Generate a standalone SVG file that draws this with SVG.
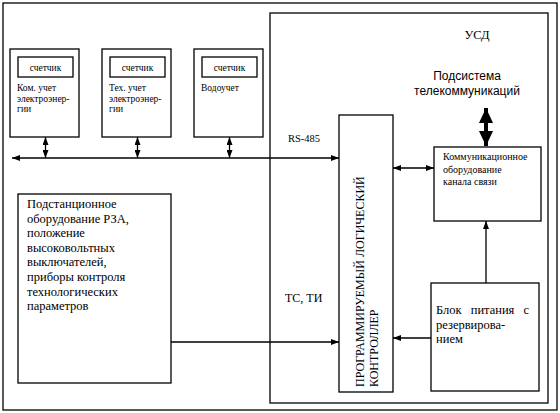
<svg xmlns="http://www.w3.org/2000/svg" width="560" height="413" viewBox="0 0 560 413">
<style>
.box{fill:#fff;stroke:#000;stroke-width:1.3}
.ln{fill:none;stroke:#000;stroke-width:1.3}
</style>
<defs>
<marker id="ah" viewBox="0 0 8 6" refX="8" refY="3" markerWidth="8" markerHeight="6" markerUnits="userSpaceOnUse" orient="auto-start-reverse">
<path d="M0,0 L8,3 L0,6 Z" fill="#000"/>
</marker>
<marker id="big" viewBox="0 0 15 14" refX="15" refY="7" markerWidth="15" markerHeight="14" markerUnits="userSpaceOnUse" orient="auto-start-reverse">
<path d="M0,0 L15,7 L0,14 Z" fill="#000"/>
</marker>
</defs>
<rect x="0" y="0" width="560" height="413" fill="#fff"/>
<g id="outer"><rect class="box" x="3" y="3" width="554" height="407"/></g>
<g font-family="'Liberation Serif', 'Times New Roman', 'DejaVu Serif', serif" fill="#000">
<g id="usd">
<rect class="box" x="270" y="13" width="278" height="390"/>
<text x="477" y="39" font-size="12.5" text-anchor="middle">УСД</text>
</g>
<g id="telecom" font-family="'Liberation Sans', Arial, sans-serif">
<text x="467" y="80" font-size="12" text-anchor="middle">Подсистема</text>
<text x="467" y="95" font-size="12" text-anchor="middle">телекоммуникаций</text>
</g>
<g id="meter1">
<rect class="box" x="10" y="49" width="69" height="88"/>
<rect class="box" x="18" y="57" width="55" height="20"/>
<text x="45.5" y="71" font-size="9.5" text-anchor="middle">счетчик</text>
<text x="17" y="91" font-size="9.5">Ком. учет</text>
<text x="17" y="101.5" font-size="9.5">электроэнер-</text>
<text x="17" y="112" font-size="9.5">гии</text>
</g>
<g id="meter2">
<rect class="box" x="102" y="49" width="69" height="88"/>
<rect class="box" x="110" y="57" width="55" height="20"/>
<text x="137.5" y="71" font-size="9.5" text-anchor="middle">счетчик</text>
<text x="109" y="91" font-size="9.5">Тех. учет</text>
<text x="109" y="101.5" font-size="9.5">электроэнер-</text>
<text x="109" y="112" font-size="9.5">гии</text>
</g>
<g id="meter3">
<rect class="box" x="194" y="49" width="69" height="88"/>
<rect class="box" x="202" y="57" width="55" height="20"/>
<text x="229.5" y="71" font-size="9.5" text-anchor="middle">счетчик</text>
<text x="201" y="91" font-size="9.5">Водоучет</text>
</g>
<g id="substation">
<rect class="box" x="18" y="194" width="153" height="189"/>
<text font-size="12.5">
<tspan x="27" y="208">Подстанционное</tspan>
<tspan x="27" y="222.6">оборудование РЗА,</tspan>
<tspan x="27" y="237.2">положение</tspan>
<tspan x="27" y="251.8">высоковольтных</tspan>
<tspan x="27" y="266.4">выключателей,</tspan>
<tspan x="27" y="281">приборы контроля</tspan>
<tspan x="27" y="295.6">технологических</tspan>
<tspan x="27" y="310.2">параметров</tspan>
</text>
</g>
<g id="plc">
<rect class="box" x="339" y="115" width="54" height="277"/>
<text font-size="12" transform="translate(364,387) rotate(-90)"><tspan x="0" y="0">ПРОГРАММИРУЕМЫЙ ЛОГИЧЕСКИЙ</tspan><tspan x="0" y="14">КОНТРОЛЛЕР</tspan></text>
</g>
<g id="comm">
<rect class="box" x="434" y="147" width="107" height="74"/>
<text font-size="10">
<tspan x="443" y="160">Коммуникационное</tspan>
<tspan x="443" y="172.5">оборудование</tspan>
<tspan x="443" y="185">канала связи</tspan>
</text>
</g>
<g id="power">
<rect class="box" x="431" y="283" width="108" height="108"/>
<text font-size="12.5">
<tspan x="436" y="314" word-spacing="6">Блок питания с</tspan>
<tspan x="436" y="328.5">резервирова-</tspan>
<tspan x="436" y="343">нием</tspan>
</text>
</g>
<g id="connectors">
<line class="ln" x1="12" y1="158" x2="339" y2="158" marker-start="url(#ah)" marker-end="url(#ah)"/>
<line class="ln" x1="45.5" y1="137" x2="45.5" y2="158" marker-start="url(#ah)" marker-end="url(#ah)"/>
<line class="ln" x1="137.5" y1="137" x2="137.5" y2="158" marker-start="url(#ah)" marker-end="url(#ah)"/>
<line class="ln" x1="229.5" y1="137" x2="229.5" y2="158" marker-start="url(#ah)" marker-end="url(#ah)"/>
<line class="ln" x1="393" y1="168" x2="434" y2="168" marker-start="url(#ah)" marker-end="url(#ah)"/>
<line fill="none" stroke="#000" stroke-width="4" x1="486" y1="108" x2="486" y2="146" marker-start="url(#big)" marker-end="url(#big)"/>
<line class="ln" x1="486" y1="283" x2="486" y2="221" marker-end="url(#ah)"/>
<line class="ln" x1="431" y1="338" x2="393" y2="338" marker-end="url(#ah)"/>
<line class="ln" x1="171" y1="342" x2="339" y2="342" marker-end="url(#ah)"/>
<text x="288" y="142" font-size="10.5">RS-485</text>
<text x="285" y="302" font-size="12">ТС, ТИ</text>
</g>
</g>
</svg>
